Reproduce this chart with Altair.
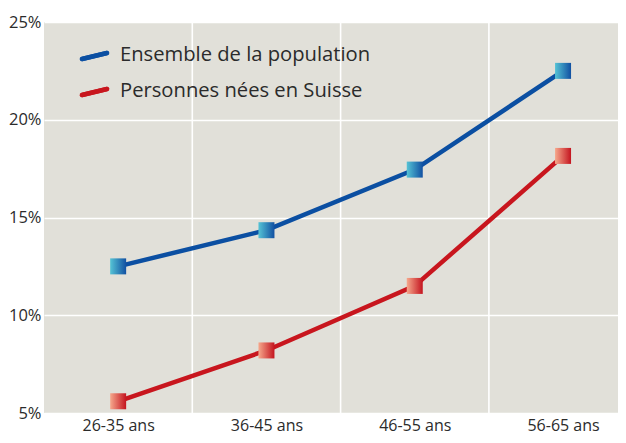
import json
import altair as alt
import pandas as pd

categories = ["26-35 ans", "36-45 ans", "46-55 ans", "56-65 ans"]
series_names = ["Ensemble de la population", "Personnes nées en Suisse"]
ensemble = [12.5, 14.35, 17.45, 22.5]
suisse = [5.6, 8.2, 11.5, 18.15]
y_ticks = [5, 10, 15, 20, 25]

FONT = "Open Sans"
TXT = "#2b2b2b"
BLUE = "#0b4fa2"
RED = "#c8161e"

rows = []
for i, c in enumerate(categories):
    rows.append({"idx": i, "cat": c, "serie": series_names[0], "val": ensemble[i]})
    rows.append({"idx": i, "cat": c, "serie": series_names[1], "val": suisse[i]})
df = pd.DataFrame(rows)
bounds = pd.DataFrame({"b": [i + 0.5 for i in range(len(categories) - 1)]})

W, H = 574, 391
band = 148.3
xdom = [-0.5, W / band - 0.5]

xscale = alt.Scale(domain=xdom, nice=False, zero=False)
yscale = alt.Scale(domain=[5, 25], nice=False, zero=False)

label_expr = json.dumps(categories) + "[datum.value]"

xaxis = alt.Axis(values=list(range(len(categories))), labelExpr=label_expr,
                 grid=False, ticks=False, domain=False, title=None,
                 labelFont=FONT, labelFontSize=16, labelColor=TXT,
                 labelPadding=4)
yaxis = alt.Axis(values=y_ticks, labelExpr="datum.value + '%'",
                 grid=True, gridColor="white", gridWidth=1.6,
                 ticks=False, domain=False, title=None,
                 labelFont=FONT, labelFontSize=16.5, labelColor=TXT,
                 labelPadding=3)

base = alt.Chart(df)

lines = base.mark_line(strokeWidth=4.5).encode(
    x=alt.X("idx:Q", scale=xscale, axis=xaxis),
    y=alt.Y("val:Q", scale=yscale, axis=yaxis),
    color=alt.Color("serie:N", scale=alt.Scale(domain=series_names, range=[BLUE, RED]),
                    legend=None),
    detail="serie:N",
)

grid_v = alt.Chart(bounds).mark_rule(color="white", strokeWidth=1.6).encode(
    x=alt.X("b:Q", scale=xscale, axis=xaxis)
)

def grad(c1, c2):
    return alt.LinearGradient(
        gradient="linear",
        stops=[alt.GradientStop(color=c1, offset=0), alt.GradientStop(color=c2, offset=1)],
        x1=0, x2=1, y1=0, y2=0,
    )

sq_blue = alt.Chart(df[df.serie == series_names[0]]).mark_square(
    size=256, fill=grad("#55c3d5", "#1150a2"), opacity=1, strokeWidth=0
).encode(x=alt.X("idx:Q", scale=xscale, axis=xaxis), y=alt.Y("val:Q", scale=yscale, axis=yaxis))

sq_red = alt.Chart(df[df.serie == series_names[1]]).mark_square(
    size=256, fill=grad("#f6a88c", "#c4141f"), opacity=1, strokeWidth=0
).encode(x=alt.X("idx:Q", scale=xscale, axis=xaxis), y=alt.Y("val:Q", scale=yscale, axis=yaxis))

leg_df = pd.DataFrame({"serie": series_names})

def leg_line(color, y1, y2):
    return alt.Chart(leg_df).mark_rule(strokeWidth=4.5, strokeCap="round", color=color).encode(
        x=alt.value(38), x2=alt.value(63), y=alt.value(y1), y2=alt.value(y2)
    )

def leg_text(i, y):
    return alt.Chart(leg_df.iloc[[i]]).mark_text(
        align="left", baseline="alphabetic", font=FONT, fontSize=20.2, color=TXT
    ).encode(text="serie:N", x=alt.value(76), y=alt.value(y))

chart = alt.layer(
    grid_v, lines, sq_blue, sq_red,
    leg_line(BLUE, 37, 31), leg_line(RED, 73, 67),
    leg_text(0, 38.5), leg_text(1, 74.5),
).properties(
    width=W, height=H,
    autosize=alt.AutoSizeParams(type="none"),
    padding={"left": 36, "top": 14, "right": 0, "bottom": 22},
    background="white",
).configure_view(fill="#e1e0d9", stroke=None)

chart.save("out.html", embed_options={"renderer": "svg", "actions": False})
